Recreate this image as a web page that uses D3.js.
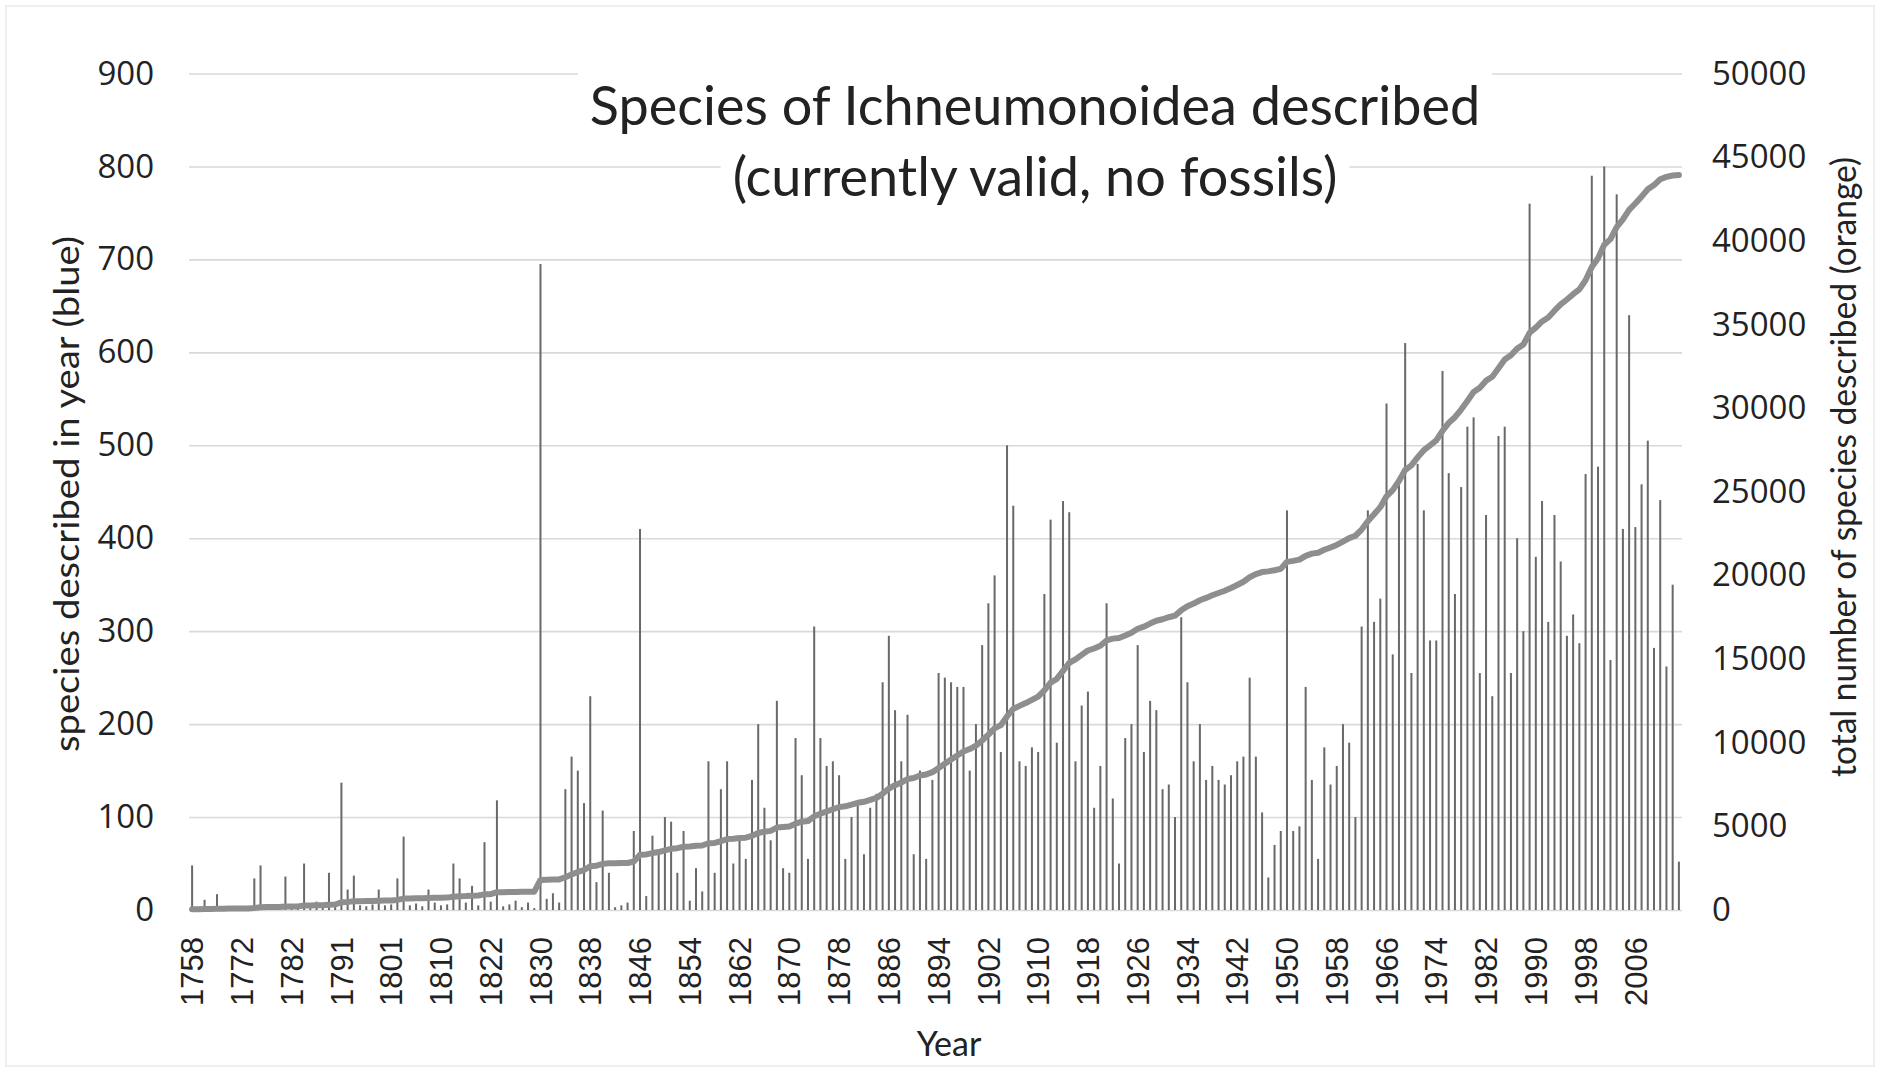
<!DOCTYPE html>
<html><head><meta charset="utf-8">
<script src="https://cdn.jsdelivr.net/npm/d3@7"></script>
<style>body{margin:0;background:#fff}svg{display:block}</style>
</head><body>
<svg id="chart" width="1890" height="1079"></svg>
<script>
// ---------- DATA ----------
const years = [
 "1758","1759","1761","1763","1764","1766","1767","1771",
 "1772","1773","1775","1776","1777","1778","1779","1781",
 "1782","1783","1784","1785","1786","1787","1789","1790",
 "1791","1792","1793","1794","1795","1797","1798","1800",
 "1801","1802","1803","1804","1805","1806","1807","1809",
 "1810","1811","1813","1814","1815","1817","1819","1821",
 "1822","1823","1824","1825","1826","1827","1828","1829",
 "1830","1831","1832","1833","1834","1835","1836","1837","1838","1839",
 "1840","1841","1842","1843","1844","1845","1846","1847","1848","1849",
 "1850","1851","1852","1853","1854","1855","1856","1857","1858","1859",
 "1860","1861","1862","1863","1864","1865","1866","1867","1868","1869",
 "1870","1871","1872","1873","1874","1875","1876","1877","1878","1879",
 "1880","1881","1882","1883","1884","1885","1886","1887","1888","1889",
 "1890","1891","1892","1893","1894","1895","1896","1897","1898","1899",
 "1900","1901","1902","1903","1904","1905","1906","1907","1908","1909",
 "1910","1911","1912","1913","1914","1915","1916","1917","1918","1919",
 "1920","1921","1922","1923","1924","1925","1926","1927","1928","1929",
 "1930","1931","1932","1933","1934","1935","1936","1937","1938","1939",
 "1940","1941","1942","1943","1944","1945","1946","1947","1948","1949",
 "1950","1951","1952","1953","1954","1955","1956","1957","1958","1959",
 "1960","1961","1962","1963","1964","1965","1966","1967","1968","1969",
 "1970","1971","1972","1973","1974","1975","1976","1977","1978","1979",
 "1980","1981","1982","1983","1984","1985","1986","1987","1988","1989",
 "1990","1991","1992","1993","1994","1995","1996","1997","1998","1999",
 "2000","2001","2002","2003","2004","2005","2006","2007","2008","2009",
 "2010","2011","2012","2013"
];

// species described in each year (bars)
const speciesPerYear = [
 48,3,11,2,17,1,1,2,
 1,2,34,48,2,1,2,36,
 3,2,50,2,9,3,40,6,
 137,22,37,5,4,6,22,5,
 6,34,79,5,7,4,22,8,
 5,6,50,34,8,26,5,73,
 9,118,4,6,10,3,8,2,
 695,12,18,8,130,165,150,115,230,30,
 107,40,3,5,8,85,410,15,80,60,
 100,95,40,85,10,45,20,160,40,130,
 160,50,75,55,140,200,110,75,225,45,
 40,185,145,55,305,185,155,160,145,55,
 100,115,60,110,125,245,295,215,160,210,
 60,150,55,140,255,250,245,240,240,150,
 200,285,330,360,170,500,435,160,155,175,
 170,340,420,180,440,428,160,220,235,110,
 155,330,120,50,185,200,285,170,225,215,
 130,135,100,315,245,160,200,140,155,140,
 135,145,160,165,250,165,105,35,70,85,
 430,85,90,240,140,55,175,135,155,200,
 180,100,305,430,310,335,545,275,460,610,
 255,480,430,290,290,580,470,340,455,520,
 530,255,425,230,510,520,255,400,300,760,
 380,440,310,425,375,295,318,287,469,790,
 477,800,269,770,410,640,412,458,505,282,
 441,262,350,52
];

// total number of species described (line)
const cumulativeSpecies = [
 48,51,62,64,81,82,83,85,
 86,88,122,170,172,173,175,211,
 214,216,266,268,277,280,320,326,
 463,485,522,527,531,537,559,564,
 570,604,683,688,695,699,721,729,
 734,740,790,824,832,858,863,936,
 945,1063,1067,1073,1083,1086,1094,1096,
 1791,1803,1821,1829,1959,2124,2274,2389,2619,2649,
 2756,2796,2799,2804,2812,2897,3307,3322,3402,3462,
 3562,3657,3697,3782,3792,3837,3857,3990,4010,4110,
 4240,4260,4300,4320,4430,4600,4680,4730,4930,4960,
 4990,5160,5280,5320,5600,5760,5890,6020,6150,6200,
 6300,6410,6470,6580,6700,6950,7250,7460,7620,7830,
 7890,8040,8100,8240,8490,8740,8990,9230,9470,9620,
 9820,10130,10480,10860,11050,11570,12020,12200,12370,12560,
 12750,13130,13590,13810,14290,14770,14980,15250,15510,15630,
 15790,16110,16220,16260,16410,16570,16810,16940,17120,17290,
 17380,17500,17595,17910,18155,18315,18515,18655,18810,18950,
 19085,19250,19430,19620,19890,20080,20200,20240,20310,20390,
 20810,20870,20940,21170,21300,21355,21530,21665,21820,22020,
 22230,22370,22740,23240,23650,24080,24730,25100,25640,26300,
 26575,27055,27485,27775,28065,28645,29115,29455,29910,30430,
 30960,31215,31640,31870,32380,32900,33155,33555,33800,34500,
 34810,35180,35420,35820,36195,36490,36808,37095,37640,38430,
 38950,39760,40100,40820,41280,41850,42230,42640,43080,43330,
 43680,43820,43900,43930
];

const xTickLabels = ["1758","1772","1782","1791","1801","1810","1822","1830","1838","1846",
 "1854","1862","1870","1878","1886","1894","1902","1910","1918","1926","1934","1942",
 "1950","1958","1966","1974","1982","1990","1998","2006"];
const leftTicks = [0,100,200,300,400,500,600,700,800,900];
const rightTicks = [0,5000,10000,15000,20000,25000,30000,35000,40000,45000,50000];
const titleLines = ["Species of Ichneumonoidea described","(currently valid, no fossils)"];

// ---------- LAYOUT ----------
const svg = d3.select("#chart");
const L = 189, R = 1682, T = 73.5, B = 910;

const x = d3.scaleBand().domain(years).range([L, R]).padding(0);
const yL = d3.scaleLinear().domain([0, 900]).range([B, T]);
const yR = d3.scaleLinear().domain([0, 50000]).range([B, T]);
const bw = x.bandwidth();

svg.append("rect").attr("width",1890).attr("height",1079).attr("fill","#fff");
svg.append("rect").attr("x",6).attr("y",6).attr("width",1868).attr("height",1060)
  .attr("fill","none").attr("stroke","#efefef").attr("stroke-width",2);

// gridlines
const grid = svg.append("g").attr("transform",`translate(${L},0)`)
  .call(d3.axisLeft(yL).tickValues(leftTicks).tickSize(-(R-L)).tickFormat(""));
grid.select(".domain").remove();
grid.selectAll("line").attr("stroke","#d9d9d9").attr("stroke-width",1.6);

// title with white background
const titleG = svg.append("g");
const bgG = titleG.append("g");
const tG = titleG.append("g");
const baselines = [125, 196];
titleLines.forEach((t,i)=>{
  const tx = tG.append("text").attr("x",1035).attr("y",baselines[i])
    .attr("text-anchor","middle").attr("font-family","Lato, 'Open Sans', sans-serif")
    .attr("font-size",54).attr("fill","#222").text(t);
  const bb = tx.node().getBBox();
  bgG.append("rect").attr("x",bb.x-12).attr("y",bb.y-4).attr("width",bb.width+24)
    .attr("height",bb.height+8).attr("fill","#fff");
});

// bars
svg.append("g").selectAll("rect").data(years).join("rect")
  .attr("x", (d)=>x(d)+bw/2-1)
  .attr("width", 2)
  .attr("y", (d,i)=>yL(speciesPerYear[i]))
  .attr("height", (d,i)=>B-yL(speciesPerYear[i]))
  .attr("fill","#696969");

// cumulative line
const line = d3.line().x((d,i)=>x(years[i])+bw/2).y(d=>yR(d));
svg.append("path").datum(cumulativeSpecies).attr("d",line)
  .attr("fill","none").attr("stroke","#8e8e8e").attr("stroke-width",6)
  .attr("stroke-linejoin","round").attr("stroke-linecap","round");

// left axis labels
const ax1 = svg.append("g").attr("transform",`translate(${L},0)`)
  .call(d3.axisLeft(yL).tickValues(leftTicks).tickSize(0).tickPadding(35).tickFormat(d3.format("d")));
ax1.select(".domain").remove();
ax1.selectAll("text").attr("font-family","'Open Sans', sans-serif").attr("font-size",33).attr("fill","#222");

// right axis labels
const ax2 = svg.append("g").attr("transform",`translate(${R},0)`)
  .call(d3.axisRight(yR).tickValues(rightTicks).tickSize(0).tickPadding(30).tickFormat(d3.format("d")));
ax2.select(".domain").remove();
ax2.selectAll("text").attr("font-family","'Open Sans', sans-serif").attr("font-size",33).attr("fill","#222");

// x axis labels
const ax3 = svg.append("g").attr("transform",`translate(0,${B})`)
  .call(d3.axisBottom(x).tickValues(xTickLabels).tickSize(0));
ax3.select(".domain").remove();
ax3.selectAll("text").attr("transform","rotate(-90)").attr("x",-27).attr("y",0)
  .attr("dy","0.36em").style("text-anchor","end")
  .attr("font-family","'Liberation Sans', Arial, sans-serif").attr("font-size",31).attr("fill","#222");

// axis titles
svg.append("text").attr("x",949).attr("y",1056).attr("text-anchor","middle")
  .attr("font-family","Lato, sans-serif").attr("font-size",34).attr("fill","#222").text("Year");
svg.append("text").attr("transform","translate(79,494) rotate(-90)").attr("text-anchor","middle")
  .attr("font-family","Lato, sans-serif").attr("font-size",34).attr("fill","#222")
  .attr("textLength",516).attr("lengthAdjust","spacingAndGlyphs")
  .text("species described in year (blue)");
svg.append("text").attr("transform","translate(1856,467) rotate(-90)").attr("text-anchor","middle")
  .attr("font-family","Lato, sans-serif").attr("font-size",34).attr("fill","#222")
  .attr("textLength",620).attr("lengthAdjust","spacingAndGlyphs")
  .text("total number of species described (orange)");
</script>
</body></html>
